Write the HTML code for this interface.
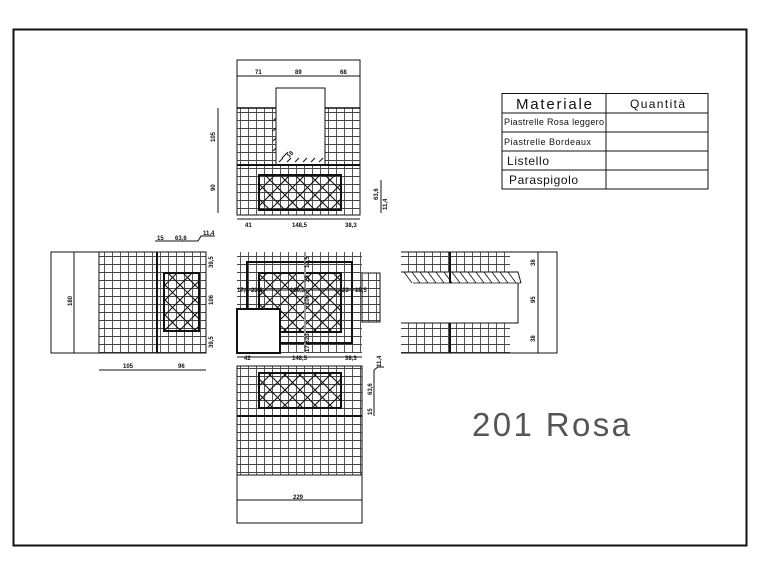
<!DOCTYPE html>
<html><head><meta charset="utf-8"><style>
html,body{margin:0;padding:0;background:#fff;}
svg{display:block;}
text{font-family:"Liberation Sans",sans-serif;}
</style></head><body>
<svg width="760" height="570" viewBox="0 0 760 570" xmlns="http://www.w3.org/2000/svg">
<defs>
<pattern id="g" width="8" height="8" patternUnits="userSpaceOnUse">
<path d="M0 0.5H8M0.5 0V8" stroke="#444" stroke-width="0.9" fill="none"/>
</pattern>
<pattern id="x" width="15" height="15" patternUnits="userSpaceOnUse">
<path d="M0 0L15 15M15 0L0 15" stroke="#111" stroke-width="1.1" fill="none"/>
</pattern>
</defs>
<rect width="760" height="570" fill="#fff"/>
<rect x="13.5" y="29.5" width="733" height="516" fill="none" stroke="#111" stroke-width="2"/>

<!-- TOP VIEW -->
<g stroke="#111" fill="none">
<rect x="237" y="60" width="123" height="155" stroke-width="1"/>
<line x1="237" y1="76" x2="360" y2="76"/>
<rect x="237" y="108" width="39" height="57" fill="url(#g)" stroke="none"/>
<rect x="325" y="108" width="35" height="57" fill="url(#g)" stroke="none"/>
<line x1="237" y1="108" x2="276" y2="108" stroke-width="1.5"/>
<line x1="325" y1="108" x2="360" y2="108" stroke-width="1.5"/>
<rect x="276" y="88" width="49" height="77" fill="#fff"/>
<rect x="237" y="165" width="123" height="50" fill="url(#g)" stroke="none"/>
<line x1="237" y1="165" x2="360" y2="165" stroke-width="2"/>
<rect x="259" y="175" width="82" height="35" fill="url(#x)" stroke-width="2"/>
<path d="M276 110V162M276 118l-3 3M276 128l-3 3M276 138l-3 3M276 148l-3 3M279 162l4-4M287 162l4-4M295 162l4-4M303 162l4-4M311 162l4-4M319 162l4-4M282 158l6-6"/>
<line x1="218" y1="108" x2="218" y2="213"/>
<line x1="237" y1="219" x2="360" y2="219"/>
<line x1="381" y1="180" x2="381" y2="213"/>
</g>
<g font-size="6" font-weight="bold" fill="#111">
<text x="255" y="74">71</text><text x="295" y="74">89</text><text x="340" y="74">68</text>
<text x="245" y="227">41</text><text x="292" y="227">148,5</text><text x="345" y="227">38,3</text>
<text transform="translate(215,142) rotate(-90)">105</text>
<text transform="translate(215,191) rotate(-90)">90</text>
<text transform="translate(378,200) rotate(-90)">63,6</text>
<text transform="translate(387,210) rotate(-90)">11,4</text>
<text transform="translate(289,158) rotate(-45)">18</text>
</g>

<!-- LEFT VIEW -->
<g stroke="#111" fill="none">
<rect x="99" y="252" width="107" height="101" fill="url(#g)" stroke="none"/>
<rect x="51" y="252" width="155" height="101"/>
<line x1="74" y1="252" x2="74" y2="353"/>
<line x1="99" y1="252" x2="99" y2="353"/>
<line x1="157" y1="252" x2="157" y2="353" stroke-width="2"/>
<rect x="164" y="273" width="35" height="58" fill="url(#x)" stroke-width="2"/>
<line x1="99" y1="370" x2="206" y2="370"/>
<line x1="155" y1="241" x2="198" y2="241"/>
<path d="M198 241l3-5h14"/>
</g>
<g font-size="6" font-weight="bold" fill="#111">
<text transform="translate(72,306) rotate(-90)">180</text>
<text transform="translate(213,268) rotate(-90)">39,5</text>
<text transform="translate(213,305) rotate(-90)">106</text>
<text transform="translate(213,348) rotate(-90)">39,5</text>
<text x="123" y="368">105</text><text x="178" y="368">96</text>
<text x="157" y="240">15</text><text x="175" y="240">63,6</text><text x="203" y="235">11,4</text>
</g>

<!-- CENTER VIEW -->
<g stroke="#111" fill="none">
<rect x="237" y="252" width="125" height="101" fill="url(#g)" stroke="none"/>
<rect x="362" y="273" width="18" height="49" fill="url(#g)" stroke="#111"/>
<rect x="247" y="262" width="105" height="81" stroke-width="2"/>
<rect x="259" y="273" width="82" height="59" fill="url(#x)" stroke-width="2"/>
<line x1="305" y1="252" x2="305" y2="353" stroke="#999" stroke-width="2"/>
<line x1="240" y1="290" x2="360" y2="290"/>
<rect x="237" y="309" width="43" height="44" fill="#fff" stroke-width="2"/>
<line x1="237" y1="357" x2="362" y2="357"/>
</g>
<g font-size="6" font-weight="bold" fill="#111">
<text x="237" y="292">17,5</text><text x="251" y="292">23,6</text><text x="290" y="292">160,3</text>
<text x="342" y="292">23</text><text x="355" y="292">15,5</text>
<text transform="translate(309,268) rotate(-90)">17,5</text>
<text transform="translate(309,282) rotate(-90)">23</text>
<text transform="translate(309,305) rotate(-90)">106</text>
<text transform="translate(309,340) rotate(-90)">23</text>
<text transform="translate(309,352) rotate(-90)">17,5</text>
<text x="244" y="360">42</text><text x="292" y="360">148,5</text><text x="345" y="360">38,3</text>
</g>

<!-- RIGHT VIEW -->
<g stroke="#111" fill="none">
<rect x="401" y="252" width="109" height="20" fill="url(#g)" stroke="none"/>
<rect x="401" y="323" width="109" height="30" fill="url(#g)" stroke="none"/>
<path d="M401 272H518L521 283M401 252H557V353H401M518 283V323H401" />
<line x1="538" y1="252" x2="538" y2="353"/>
<line x1="450" y1="252" x2="450" y2="283" stroke-width="2"/>
<line x1="450" y1="323" x2="450" y2="353" stroke-width="2"/>
<path d="M404 272l8 11M412 272l8 11M420 272l8 11M428 272l8 11M436 272l8 11M444 272l8 11M452 272l8 11M460 272l8 11M468 272l8 11M476 272l8 11M484 272l8 11M492 272l8 11M500 272l8 11M508 272l8 11M413 283H521" stroke-width="0.8"/>
</g>
<g font-size="6" font-weight="bold" fill="#111">
<text transform="translate(535,266) rotate(-90)">38</text>
<text transform="translate(535,303) rotate(-90)">95</text>
<text transform="translate(535,342) rotate(-90)">38</text>
</g>

<!-- BOTTOM VIEW -->
<g stroke="#111" fill="none">
<rect x="237" y="366" width="125" height="109" fill="url(#g)" stroke="none"/>
<rect x="237" y="366" width="125" height="157"/>
<line x1="237" y1="475" x2="362" y2="475"/>
<line x1="237" y1="500" x2="362" y2="500"/>
<rect x="259" y="373" width="82" height="35" fill="url(#x)" stroke-width="2"/>
<line x1="237" y1="416" x2="362" y2="416" stroke-width="2"/>
<line x1="374" y1="370" x2="374" y2="416"/>
<path d="M374 370l4-3h6"/>
</g>
<g font-size="6" font-weight="bold" fill="#111">
<text x="293" y="499">229</text>
<text transform="translate(372,395) rotate(-90)">63,6</text>
<text transform="translate(372,415) rotate(-90)">15</text>
<text transform="translate(381,367) rotate(-90)">11,4</text>
</g>

<!-- TABLE -->
<g stroke="#111" fill="none" stroke-width="1">
<rect x="502" y="93.5" width="206" height="95.5"/>
<line x1="606" y1="93" x2="606" y2="189"/>
<line x1="502" y1="113" x2="708" y2="113"/>
<line x1="502" y1="132" x2="708" y2="132"/>
<line x1="502" y1="151" x2="708" y2="151"/>
<line x1="502" y1="170" x2="708" y2="170"/>
</g>
<g fill="#111">
<text x="516" y="109" font-size="15" textLength="76">Materiale</text>
<text x="630" y="108" font-size="12" textLength="55">Quantità</text>
<text x="504" y="125" font-size="9" textLength="100">Piastrelle Rosa leggero</text>
<text x="504" y="145" font-size="9" textLength="87">Piastrelle Bordeaux</text>
<text x="507" y="165" font-size="12" textLength="42">Listello</text>
<text x="509" y="184" font-size="12" textLength="69">Paraspigolo</text>
</g>

<text x="472" y="436" font-size="33" fill="#555" textLength="158">201  Rosa</text>
</svg>
</body></html>
